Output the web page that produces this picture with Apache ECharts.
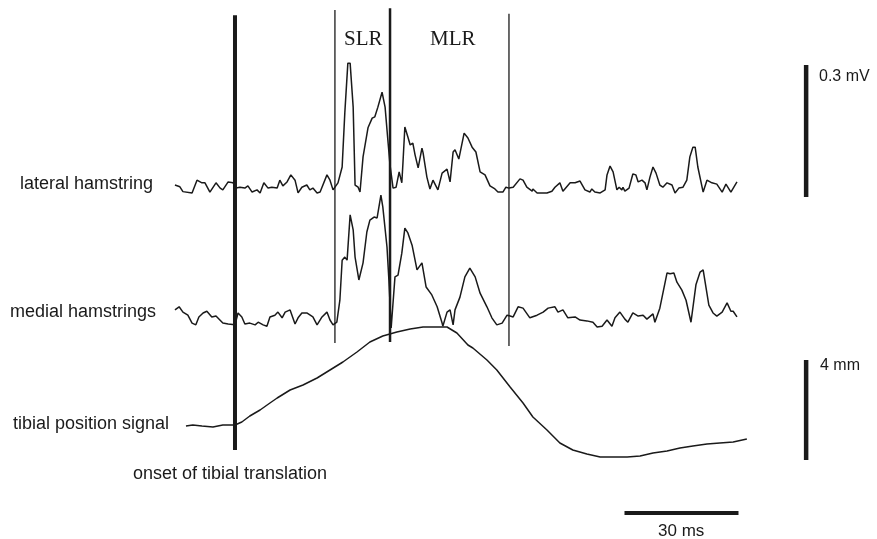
<!DOCTYPE html>
<html>
<head>
<meta charset="utf-8">
<title>hamstring reflex</title>
<script src="https://cdn.jsdelivr.net/npm/echarts@6/dist/echarts.min.js"></script>
<style>
	html, body {margin:0; padding:0; background:#fff;}
	#container {width:877px; height:539px;}
</style>
</head>
<body>
<div id="container"></div>
<script>
// time in ms from onset of tibial translation, EMG in uV, position in mm
let lateralHamstring = [[-15.8,0],[-14.5,-4],[-13.7,-15],[-11.3,-18],[-10.0,11],[-8.7,5],[-7.9,5],[-6.6,-16],[-5.0,5],[-3.9,-7],
	[-3.2,-11],[-1.8,7],[-0.5,5],[0.3,-7],[1.3,-5],[2.6,-7],[3.4,-2],[4.5,-16],[5.8,-11],[6.6,-18],[7.6,5],[8.7,-7],[9.7,-5],
	[11.1,-7],[11.8,11],[12.6,-2],[13.7,7],[14.7,23],[15.8,11],[16.6,-18],[17.6,-5],[18.9,0],[19.7,-11],[20.5,-7],[21.6,-18],
	[22.4,-16],[24.2,23],[25.0,11],[25.8,-11],[26.3,-9],[27.1,5],[28.2,41],[28.9,164],[29.7,277],[30.3,277],[31.1,177],[31.6,0],
	[32.4,-5],[32.9,-16],[33.7,64],[35.0,130],[36.1,152],[36.8,155],[37.6,177],[38.7,211],[39.5,177],[40.3,95],[40.8,45],
	[41.6,-7],[42.4,-5],[43.2,30],[43.9,5],[44.2,50],[44.7,132],[45.5,109],[46.1,91],[46.8,95],[47.4,68],[48.2,39],[49.2,84],
	[49.5,73],[50.5,18],[51.3,-9],[52.1,11],[53.4,-11],[54.5,27],[55.8,36],[56.6,7],[57.4,75],[57.9,80],[58.9,59],[60.3,118],
	[61.3,107],[62.4,86],[63.4,75],[64.5,30],[65.8,23],[67.1,-2],[68.4,-9],[69.2,-16],[70.5,-16],[71.3,-5],[72.1,-7],[73.2,-5],
	[75.0,14],[75.8,11],[76.8,-5],[78.2,-14],[78.4,-9],[79.5,-18],[82.1,-18],[83.4,-14],[84.2,-5],[85.5,5],[86.3,-14],[88.2,5],
	[89.5,5],[90.8,9],[92.1,-11],[93.4,-16],[93.9,-9],[94.7,-16],[96.1,-18],[97.4,-11],[97.9,23],[98.7,43],[99.5,30],[100.5,-11],
	[101.1,-5],[101.8,-11],[102.1,-5],[102.6,-14],[103.7,-7],[104.7,25],[105.5,23],[106.1,7],[107.1,11],[107.9,5],[108.4,-11],
	[109.2,18],[110.0,41],[110.8,27],[111.8,0],[112.6,-5],[113.7,5],[115.0,0],[115.8,-18],[116.8,-7],[117.9,-5],[118.9,11],
	[119.7,64],[120.5,86],[121.1,86],[121.8,41],[123.2,-16],[124.2,11],[125.5,5],[126.8,2],[128.2,-16],[129.2,2],[130.5,-16],[132.1,7]];

let medialHamstrings = [[-15.8,23],[-14.7,30],[-13.7,18],[-12.4,11],[-11.3,-7],[-10.3,-11],[-9.5,7],[-8.4,16],[-7.4,20],[-6.1,7],
	[-5.0,9],[-3.2,-7],[-1.8,-9],[0,-11],[0.8,16],[1.8,7],[2.6,-9],[3.9,-7],[5.3,-11],[6.1,-5],[7.4,-11],[8.4,-14],[9.2,7],
	[10.5,11],[11.3,18],[12.4,5],[13.2,18],[14.5,23],[15.8,-9],[16.6,5],[17.6,16],[18.9,16],[20.5,7],[21.6,-11],[22.9,7],
	[24.2,18],[25.0,0],[25.8,-11],[26.8,-5],[27.6,45],[28.2,136],[28.9,143],[29.5,136],[30.3,239],[31.1,205],[31.6,143],
	[32.6,91],[33.7,130],[34.7,200],[35.5,227],[36.6,234],[37.4,232],[38.4,284],[38.9,257],[40.0,166],[40.5,91],[41.1,-18],
	[42.1,98],[42.9,102],[43.9,152],[44.7,209],[45.5,198],[46.6,170],[47.9,114],[49.2,130],[50.3,75],[51.8,57],[53.2,30],
	[54.5,-7],[54.7,-14],[55.8,18],[56.6,23],[57.4,-11],[57.9,23],[59.2,52],[60.5,98],[61.8,118],[63.2,98],[64.5,61],[66.3,30],
	[67.6,5],[68.9,-11],[70.3,-7],[71.6,11],[72.4,9],[73.2,7],[74.5,30],[75.8,27],[77.6,5],[79.5,11],[81.1,18],[82.4,27],
	[84.2,30],[85.0,18],[86.3,23],[87.6,5],[89.5,7],[90.8,0],[92.6,-2],[94.2,-5],[95.3,-16],[96.6,-14],[97.9,0],[99.2,-14],
	[100.0,5],[101.3,18],[102.6,2],[103.4,-5],[104.7,16],[106.1,9],[107.4,11],[108.4,2],[110.0,14],[110.5,-5],[111.8,27],
	[113.7,107],[114.5,105],[115.5,107],[116.3,86],[117.6,68],[118.7,45],[120.0,-5],[121.3,80],[121.8,84],[122.4,109],
	[123.2,114],[124.7,34],[125.8,16],[126.8,9],[128.2,18],[129.5,39],[130.5,20],[131.1,20],[132.1,7]];

let tibialPosition = [[-12.9,-0.04],[-11.1,0],[-8.7,-0.04],[-5.8,-0.08],[-3.2,0],[0,0],[1.8,0.12],[3.9,0.36],[6.6,0.6],[9.2,0.88],
	[11.1,1.08],[14.5,1.4],[17.9,1.6],[21.6,1.88],[25.0,2.2],[28.4,2.52],[32.1,2.92],[35.5,3.32],[38.9,3.56],[42.6,3.72],
	[46.1,3.84],[49.5,3.92],[53.2,3.92],[55.8,3.92],[58.4,3.68],[61.3,3.2],[62.6,3.08],[66.3,2.6],[68.9,2.2],[72.4,1.52],
	[75.8,0.88],[78.4,0.32],[82.1,-0.2],[85.5,-0.72],[88.9,-1.0],[92.6,-1.16],[96.1,-1.28],[99.5,-1.28],[103.2,-1.28],
	[106.6,-1.24],[110.0,-1.12],[113.7,-1.04],[117.1,-0.92],[120.5,-0.84],[124.2,-0.76],[127.6,-0.72],[131.1,-0.68],[134.7,-0.56]];

// vertical marker lines: time (ms), top / bottom in uV on the lateral axis
let markerTimes = [0, 26.3, 40.8, 72.1];
let markerTops = [386, 398, 402, 389];
let markerBottoms = [-602, -359, -357, -366];
let markerWidths = [4, 1.3, 2.5, 1.3];

// scale bars
let voltBar = [[150.3, 273], [150.3, -27]];		// 0.3 mV
let posBar = [[150.3, 2.6], [150.3, -1.4]];		// 4 mm
let timeBar = [[102.5, -3.52], [132.5, -3.52]];		// 30 ms

let ink = '#1a1a1a';

function traceSeries(name, data, yIndex, width){
	return {
		name: name,
		type: 'line',
		yAxisIndex: yIndex,
		data: data,
		symbol: 'none',
		silent: true,
		lineStyle: {color: ink, width: width}
	};
}

function textItem(str, x, y, size, family, align){
	return {
		type: 'text',
		left: x,
		top: y - size / 2 - 1,
		style: {text: str, fill: ink, font: size + 'px ' + family, textAlign: align || 'left'}
	};
}

let series = [];
series.push(traceSeries('lateral hamstring', lateralHamstring, 0, 1.5));
series.push(traceSeries('medial hamstrings', medialHamstrings, 1, 1.5));
series.push(traceSeries('tibial position signal', tibialPosition, 2, 1.5));
for(var i = 0, len = markerTimes.length; i < len; i++){
	series.push(traceSeries('marker' + i,
		[[markerTimes[i], markerTops[i]], [markerTimes[i], markerBottoms[i]]], 0, markerWidths[i]));
}
series.push(traceSeries('0.3 mV', voltBar, 0, 4.5));
series.push(traceSeries('4 mm', posBar, 2, 4.5));
series.push(traceSeries('30 ms', timeBar, 2, 4));

let sans = '"Liberation Sans", Arial, sans-serif';
let serif = '"Liberation Serif", "Times New Roman", serif';

let option = {
	animation: false,
	backgroundColor: '#fff',
	grid: {left: 0, right: 0, top: 0, bottom: 0, containLabel: false},
	xAxis: {type: 'value', min: -61.84, max: 168.95, show: false},
	yAxis: [
		{type: 'value', min: -804.5, max: 420.5, show: false},		// lateral, uV
		{type: 'value', min: -497.7, max: 727.3, show: false},		// medial, uV
		{type: 'value', min: -4.56, max: 17, show: false}			// tibial, mm
	],
	series: series,
	graphic: [
		textItem('lateral hamstring', 20, 185, 18, sans),
		textItem('medial hamstrings', 10, 313, 18, sans),
		textItem('tibial position signal', 13, 425, 18, sans),
		textItem('onset of tibial translation', 133, 475, 18, sans),
		textItem('SLR', 344, 40, 21, serif),
		textItem('MLR', 430, 40, 21, serif),
		textItem('0.3 mV', 819, 78, 16, sans),
		textItem('4 mm', 820, 367, 16, sans),
		textItem('30 ms', 658, 532, 17, sans)
	]
};

var myChart = echarts.init(document.getElementById('container'));
myChart.setOption(option, true);
</script>
</body>
</html>
